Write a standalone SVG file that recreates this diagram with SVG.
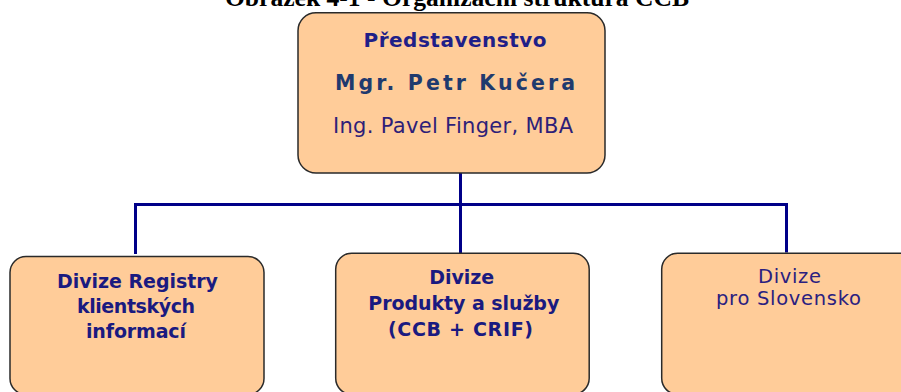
<svg xmlns="http://www.w3.org/2000/svg" width="901" height="392" viewBox="0 0 901 392">
<style>
.box{fill:#FFCC99;stroke:#2a2a2a;stroke-width:1.5}
.t{font-family:"DejaVu Sans","Liberation Sans",sans-serif;text-anchor:middle}
.b{font-weight:bold}
.conn{fill:none;stroke:#000088;stroke-width:3;stroke-linejoin:miter;stroke-linecap:butt}
.title{font-family:"Liberation Serif","Times New Roman",serif;font-weight:bold;font-size:25.6px;text-anchor:middle;fill:#000}
</style>
<rect width="901" height="392" fill="#fff"/>
<text class="title" x="457" y="5.5">Obrázek 4-1 - Organizační struktura CCB</text>
<g id="connectors">
<path class="conn" d="M460.5,173 V253"/>
<path class="conn" d="M135.5,254 V204.5 H786.5 V252.5"/>
</g>
<g id="predstavenstvo">
<rect class="box" x="298" y="12.7" width="307" height="160.3" rx="18" ry="18"/>
<text class="t b" x="455" y="46.5" font-size="20" fill="#1f1f88" textLength="183">Představenstvo</text>
<text class="t b" x="455" y="90" font-size="20.5" fill="#1f3a6e" textLength="240">Mgr. Petr Kučera</text>
<text class="t" x="453" y="132.5" font-size="21" fill="#2e1e78" textLength="240">Ing. Pavel Finger, MBA</text>
</g>
<g id="divize-registry">
<rect class="box" x="10" y="256.5" width="254" height="138" rx="16" ry="16"/>
<text class="t b" x="137.5" y="288" font-size="19" fill="#1a1a80" textLength="161">Divize Registry</text>
<text class="t b" x="136" y="312.5" font-size="19" fill="#1a1a80" textLength="118">klientských</text>
<text class="t b" x="136" y="337.5" font-size="19" fill="#1a1a80" textLength="100">informací</text>
</g>
<g id="divize-produkty">
<rect class="box" x="335.7" y="253.3" width="253.5" height="141" rx="16" ry="16"/>
<text class="t b" x="461.7" y="284" font-size="19" fill="#1a1a80" textLength="65">Divize</text>
<text class="t b" x="463.8" y="310" font-size="19" fill="#1a1a80" textLength="191">Produkty a služby</text>
<text class="t b" x="460.5" y="335.5" font-size="19" fill="#1a1a80" textLength="145">(CCB + CRIF)</text>
</g>
<g id="divize-slovensko">
<rect class="box" x="661.7" y="253.3" width="254" height="141" rx="16" ry="16"/>
<text class="t" x="789.5" y="282.5" font-size="19.5" fill="#2a2080" textLength="63">Divize</text>
<text class="t" x="788.5" y="305" font-size="19.5" fill="#2a2080" textLength="145">pro Slovensko</text>
</g>
</svg>
